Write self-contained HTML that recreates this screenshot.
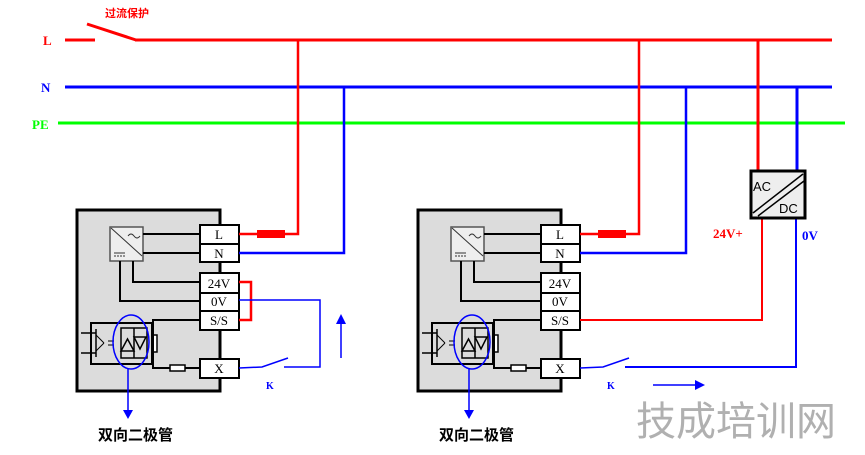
<!DOCTYPE html>
<html><head><meta charset="utf-8"><style>
html,body{margin:0;padding:0;background:#fff;width:865px;height:455px;overflow:hidden}
text{font-family:"Liberation Serif","Noto Serif CJK SC",serif}
text.sans{font-family:"Liberation Sans","Noto Sans CJK SC",sans-serif}
</style></head><body>
<svg width="865" height="455" viewBox="0 0 865 455" xmlns="http://www.w3.org/2000/svg">
<defs>
<g id="dev">
  <rect x="77" y="210" width="143" height="181" fill="#dcdcdc" stroke="#000" stroke-width="3"/>
  <rect x="110" y="227" width="33" height="34" fill="#eee" stroke="#555" stroke-width="1.5"/>
  <line x1="111" y1="228" x2="142" y2="256" stroke="#333" stroke-width="1"/>
  <path d="M128 236 q3 -4 6 0 q3 4 6 0" fill="none" stroke="#333" stroke-width="1"/>
  <line x1="114" y1="253" x2="125" y2="253" stroke="#333"/>
  <line x1="114" y1="256" x2="125" y2="256" stroke="#333" stroke-dasharray="2,1"/>
  <line x1="143" y1="234" x2="200" y2="234" stroke="#000" stroke-width="2"/>
  <line x1="143" y1="253" x2="200" y2="253" stroke="#000" stroke-width="2"/>
  <polyline points="120,261 120,301 200,301" fill="none" stroke="#000" stroke-width="2"/>
  <polyline points="133,261 133,282 200,282" fill="none" stroke="#000" stroke-width="2"/>
  <g fill="#fff" stroke="#000" stroke-width="2">
    <rect x="200" y="225" width="39" height="19"/>
    <rect x="200" y="244" width="39" height="18"/>
    <rect x="200" y="273" width="39" height="20"/>
    <rect x="200" y="293" width="39" height="18"/>
    <rect x="200" y="311" width="39" height="19"/>
    <rect x="200" y="359" width="39" height="19"/>
  </g>
  <g font-size="13" fill="#000" text-anchor="middle">
    <text x="219" y="239">L</text>
    <text x="219" y="258">N</text>
    <text x="219" y="288">24V</text>
    <text x="219" y="306">0V</text>
    <text x="219" y="325">S/S</text>
    <text x="219" y="373">X</text>
  </g>
  <rect x="91" y="323" width="61" height="41" fill="none" stroke="#000" stroke-width="2"/>
  <line x1="81" y1="333" x2="96" y2="333" stroke="#000" stroke-width="1.5"/>
  <line x1="81" y1="353" x2="96" y2="353" stroke="#000" stroke-width="1.5"/>
  <polyline points="96,329 96,357" stroke="#000" stroke-width="1.5"/>
  <line x1="96" y1="335" x2="104" y2="343" stroke="#000"/>
  <line x1="96" y1="351" x2="104" y2="343" stroke="#000"/>
  <line x1="108" y1="341" x2="114" y2="341" stroke="#000"/>
  <line x1="108" y1="345" x2="114" y2="345" stroke="#000"/>
  <rect x="121" y="328" width="26" height="30" fill="none" stroke="#000" stroke-width="1.5"/>
  <polygon points="121,351 134,351 127.5,339" fill="none" stroke="#000" stroke-width="1.5"/>
  <polygon points="134,337 146,337 140,349" fill="none" stroke="#000" stroke-width="1.5"/>
  <line x1="134" y1="328" x2="134" y2="358" stroke="#000" stroke-width="1.5"/>
  <rect x="152" y="335" width="5" height="17" fill="#fff" stroke="#000" stroke-width="1.5"/>
  <polyline points="200,320 153,320 153,368 170,368" fill="none" stroke="#000" stroke-width="2"/>
  <rect x="170" y="365" width="15" height="6" fill="#fff" stroke="#000" stroke-width="1.5"/>
  <line x1="185" y1="368" x2="200" y2="368" stroke="#000" stroke-width="2"/>
  <ellipse cx="131" cy="342" rx="18" ry="27" fill="none" stroke="#00f" stroke-width="1.5"/>
  <line x1="128" y1="369" x2="128" y2="410" stroke="#00f" stroke-width="1.5"/>
  <polygon points="123,410 133,410 128,419" fill="#00f"/>
  <text class="sans" x="98" y="440" font-size="15" font-weight="bold">双向二极管</text>
  <text x="266" y="389" font-size="10" font-weight="bold" fill="#00f">K</text>
  <line x1="239" y1="234" x2="257" y2="234" stroke="#f00" stroke-width="2.5"/>
  <rect x="257" y="230" width="28" height="8" fill="#f00"/>
  <line x1="239" y1="253" x2="260" y2="253" stroke="#00f" stroke-width="2.5"/>
  <polyline points="239,368 262,367 288,358" fill="none" stroke="#00f" stroke-width="1.5"/>
</g>
</defs>
<line x1="65" y1="40" x2="95" y2="40" stroke="#f00" stroke-width="3"/>
<line x1="87" y1="24" x2="136" y2="40" stroke="#f00" stroke-width="3"/>
<line x1="135" y1="40" x2="832" y2="40" stroke="#f00" stroke-width="3"/>
<line x1="65" y1="87" x2="832" y2="87" stroke="#00f" stroke-width="3"/>
<line x1="58" y1="123" x2="845" y2="123" stroke="#0f0" stroke-width="3"/>
<text x="43" y="45" font-size="13" font-weight="bold" fill="#f00">L</text>
<text x="41" y="92" font-size="13" font-weight="bold" fill="#00f">N</text>
<text x="32" y="129" font-size="13" font-weight="bold" fill="#0f0">PE</text>
<text class="sans" x="105" y="17" font-size="11" font-weight="bold" fill="#f00">过流保护</text>

<use href="#dev"/>
<use href="#dev" transform="translate(341,0)"/>

<polyline points="285,234 298,234 298,40" fill="none" stroke="#f00" stroke-width="2.5"/>
<polyline points="260,253 344,253 344,87" fill="none" stroke="#00f" stroke-width="2.5"/>
<polyline points="239,282 251,282 251,320 239,320" fill="none" stroke="#f00" stroke-width="2.5"/>
<polyline points="239,300 320,300 320,367 284,367" fill="none" stroke="#00f" stroke-width="1.5"/>
<line x1="341" y1="358" x2="341" y2="322" stroke="#00f" stroke-width="1.5"/>
<polygon points="336,324 346,324 341,314" fill="#00f"/>

<polyline points="626,234 639,234 639,40" fill="none" stroke="#f00" stroke-width="2.5"/>
<polyline points="601,253 686,253 686,87" fill="none" stroke="#00f" stroke-width="2.5"/>
<polyline points="580,320 762,320 762,218" fill="none" stroke="#f00" stroke-width="2"/>
<polyline points="625,367 796,367 796,218" fill="none" stroke="#00f" stroke-width="2"/>
<line x1="653" y1="385" x2="697" y2="385" stroke="#00f" stroke-width="1.5"/>
<polygon points="695,380 705,385 695,390" fill="#00f"/>
<line x1="758" y1="40" x2="758" y2="171" stroke="#f00" stroke-width="3"/>
<line x1="797" y1="87" x2="797" y2="171" stroke="#00f" stroke-width="3"/>
<rect x="751" y="171" width="54" height="47" fill="#eee" stroke="#000" stroke-width="3"/>
<line x1="753" y1="213" x2="803" y2="174" stroke="#000" stroke-width="1.5"/>
<line x1="758" y1="216" x2="804" y2="181" stroke="#000" stroke-width="1.5"/>
<text class="sans" x="753" y="191" font-size="13">AC</text>
<text class="sans" x="779" y="213" font-size="13">DC</text>
<text x="713" y="238" font-size="13" font-weight="bold" fill="#f00">24V+</text>
<text x="802" y="240" font-size="13" font-weight="bold" fill="#00f">0V</text>

<text class="sans" x="636" y="435" font-size="40" fill="#b0b0b0">技成培训网</text>
</svg>
</body></html>
